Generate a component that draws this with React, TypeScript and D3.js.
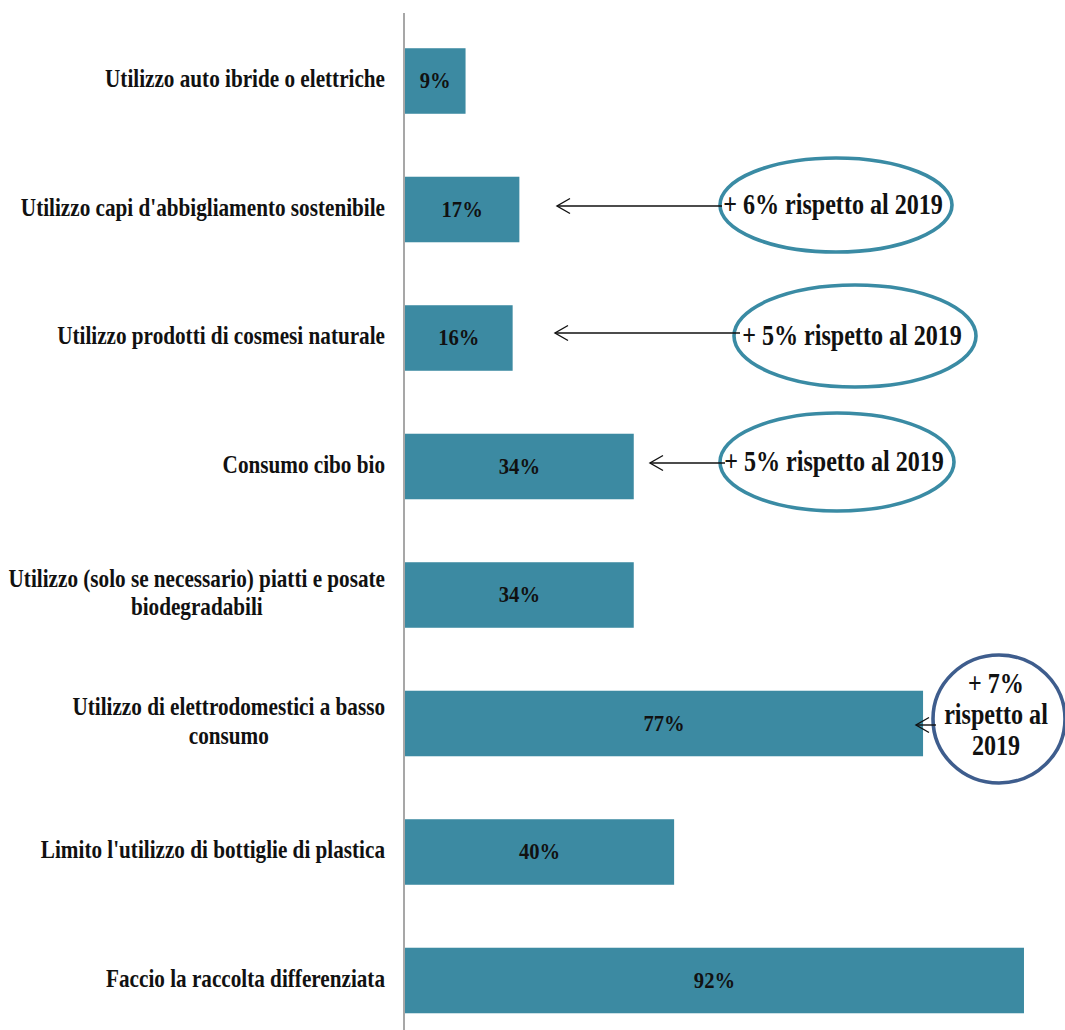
import React, { useEffect, useRef } from "react";
import * as d3 from "d3";

// ---------- DATA ----------
const categories: string[] = [
  "Utilizzo auto ibride o elettriche",
  "Utilizzo capi d'abbigliamento sostenibile",
  "Utilizzo prodotti di cosmesi naturale",
  "Consumo cibo bio",
  "Utilizzo (solo se necessario) piatti e posate\nbiodegradabili",
  "Utilizzo di elettrodomestici a basso\nconsumo",
  "Limito l'utilizzo di bottiglie di plastica",
  "Faccio la raccolta differenziata",
];
const values: number[] = [9, 17, 16, 34, 34, 77, 40, 92];

// annotation texts by category index
const annotationIndex: number[] = [1, 2, 3, 5];
const annotationText: string[][] = [
  ["+ 6% rispetto al 2019"],
  ["+ 5% rispetto al 2019"],
  ["+ 5% rispetto al 2019"],
  ["+ 7%", "rispetto al", "2019"],
];

// ---------- LAYOUT (not data) ----------
const W = 1065;
const H = 1030;
const annLayout = [
  { cx: 836, dy: -4.5, rx: 116, ry: 47, tipX: 557, startX: 722, arrowDy: -3.5, stroke: "#3A8BA4" },
  { cx: 855, dy: -2, rx: 121, ry: 51, tipX: 555, startX: 740, arrowDy: -5, stroke: "#3A8BA4" },
  { cx: 837, dy: -4.5, rx: 117, ry: 49, tipX: 650, startX: 725, arrowDy: -3.5, stroke: "#3A8BA4" },
  { cx: 999, dy: -4.5, rx: 66, ry: 64, tipX: 916, startX: 936, arrowDy: 1.5, stroke: "#3E5D8D" },
];

const FONT = "'Liberation Serif', 'Times New Roman', serif";
const LABEL_SIZE = 24.5;
const LABEL_SX = 0.865;
const VALUE_SIZE = 24;
const VALUE_SX = 0.86;
const ANN_SIZE = 30.5;
const ANN_SX = 0.79;
const BAR_COLOR = "#3C8AA2";

export default function App() {
  const ref = useRef<SVGSVGElement | null>(null);

  useEffect(() => {
    const svg = d3.select(ref.current);
    svg.selectAll("*").remove();

    const x = d3.scaleLinear().domain([0, 100]).range([405, 405 + 672.8]);
    const y = d3
      .scaleBand<number>()
      .domain(d3.range(categories.length))
      .range([16.75, 1044.75])
      .paddingInner(0.49)
      .paddingOuter(0.245);

    // bars
    svg
      .append("g")
      .selectAll("rect")
      .data(values)
      .join("rect")
      .attr("x", x(0))
      .attr("y", (_, i) => y(i)!)
      .attr("width", (d) => x(d) - x(0))
      .attr("height", y.bandwidth())
      .attr("fill", BAR_COLOR);

    // axis line
    svg
      .append("line")
      .attr("x1", 404)
      .attr("x2", 404)
      .attr("y1", 13)
      .attr("y2", H)
      .attr("stroke", "#9E9E9E")
      .attr("stroke-width", 1.8);

    const cy = (i: number) => y(i)! + y.bandwidth() / 2;

    // category labels
    const labelRight = 385;
    const lineH = 29;
    categories.forEach((cat, i) => {
      const lines = cat.split("\n");
      const n = lines.length;
      const base = cy(i) + 6 - ((n - 1) / 2) * lineH;
      const g = svg
        .append("g")
        .attr("transform", `translate(${labelRight},${base}) scale(${LABEL_SX},1)`);
      const texts = g
        .selectAll("text")
        .data(lines)
        .join("text")
        .attr("x", 0)
        .attr("y", (_, k) => k * lineH)
        .attr("text-anchor", "middle")
        .attr("font-family", FONT)
        .attr("font-weight", "bold")
        .attr("font-size", LABEL_SIZE)
        .attr("fill", "#111")
        .text((d) => d);
      let maxW = 0;
      texts.each(function () {
        const w = (this as SVGTextElement).getComputedTextLength();
        if (w > maxW) maxW = w;
      });
      texts.attr("x", -maxW / 2);
    });

    // value labels
    values.forEach((v, i) => {
      svg
        .append("g")
        .attr("transform", `translate(${(x(0) + x(v)) / 2},${cy(i) + 7}) scale(${VALUE_SX},1)`)
        .append("text")
        .attr("text-anchor", "middle")
        .attr("font-family", FONT)
        .attr("font-weight", "bold")
        .attr("font-size", VALUE_SIZE)
        .attr("fill", "#111")
        .text(`${v}%`);
    });

    // annotations
    annotationIndex.forEach((ci, k) => {
      const L = annLayout[k];
      const ey = cy(ci) + L.dy;
      const ay = cy(ci) + L.arrowDy;
      const g = svg.append("g");
      g.append("ellipse")
        .attr("cx", L.cx)
        .attr("cy", ey)
        .attr("rx", L.rx)
        .attr("ry", L.ry)
        .attr("fill", "white")
        .attr("stroke", L.stroke)
        .attr("stroke-width", 3.6);
      g.append("line")
        .attr("x1", L.startX)
        .attr("x2", L.tipX)
        .attr("y1", ay)
        .attr("y2", ay)
        .attr("stroke", "#111")
        .attr("stroke-width", 1.4);
      g.append("path")
        .attr(
          "d",
          `M${L.tipX + 13},${ay - 7.5} L${L.tipX},${ay} L${L.tipX + 13},${ay + 7.5}`
        )
        .attr("fill", "none")
        .attr("stroke", "#111")
        .attr("stroke-width", 1.4);
      const lines = annotationText[k];
      const n = lines.length;
      const lh = 31;
      const base = ey + (n === 1 ? 9 : 5) - ((n - 1) / 2) * lh;
      const tg = g
        .append("g")
        .attr("transform", `translate(${L.cx - 3},${base}) scale(${ANN_SX},1)`);
      tg.selectAll("text")
        .data(lines)
        .join("text")
        .attr("x", 0)
        .attr("y", (_, j) => j * lh)
        .attr("text-anchor", "middle")
        .attr("font-family", FONT)
        .attr("font-weight", "bold")
        .attr("font-size", ANN_SIZE)
        .attr("fill", "#111")
        .text((d) => d);
    });
  }, []);

  return (
    <svg
      ref={ref}
      width={W}
      height={H}
      style={{ position: "absolute", left: 0, top: 0, display: "block", background: "white" }}
    />
  );
}
